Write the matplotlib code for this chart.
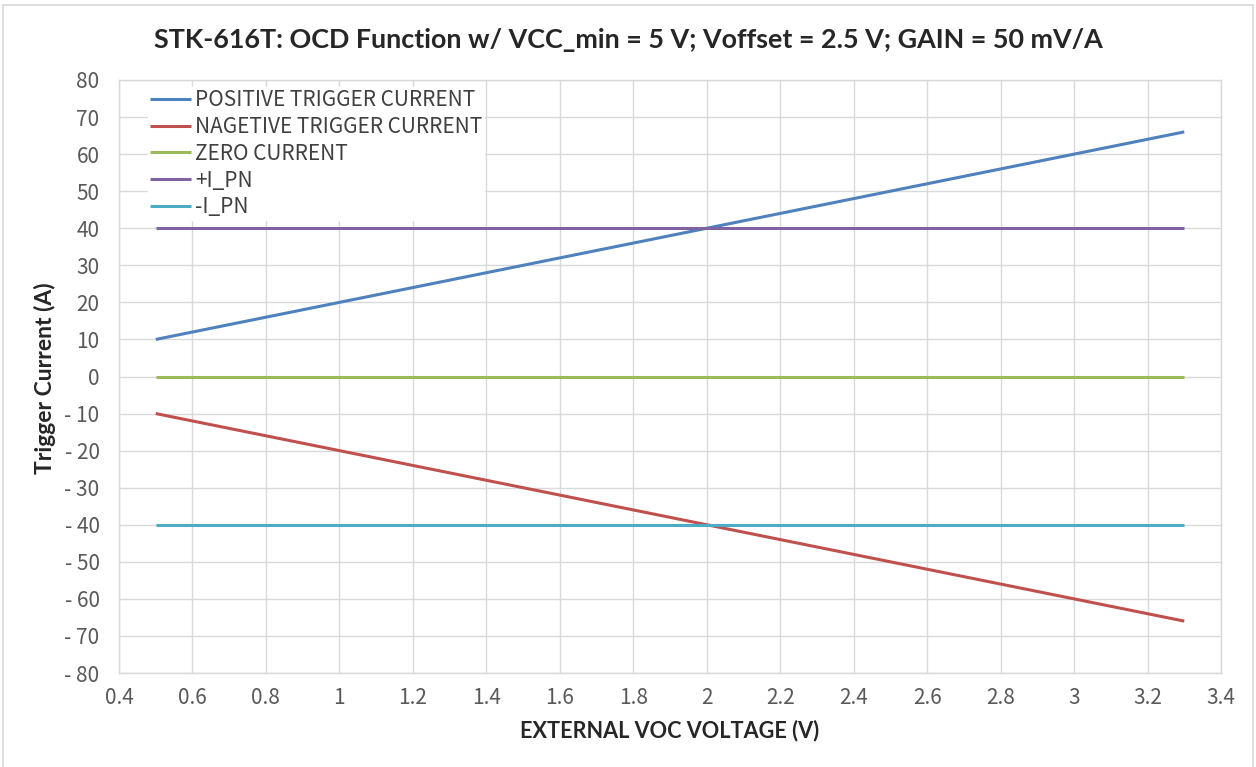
import matplotlib
matplotlib.use("Agg")
import matplotlib.pyplot as plt
from matplotlib.patches import Rectangle

# data
voltage = [0.5, 1.0, 1.5, 2.0, 2.5, 3.0, 3.3]
pos_trigger = [10, 20, 30, 40, 50, 60, 66]
neg_trigger = [-10, -20, -30, -40, -50, -60, -66]
zero_current = [0, 0, 0, 0, 0, 0, 0]
plus_ipn = [40, 40, 40, 40, 40, 40, 40]
minus_ipn = [-40, -40, -40, -40, -40, -40, -40]

series_names = ["POSITIVE TRIGGER CURRENT", "NAGETIVE TRIGGER CURRENT",
                "ZERO CURRENT", "+I_PN", "-I_PN"]
colors = ["#4F81BD", "#C0504D", "#9BBB59", "#8064A2", "#4BACC6"]

x_ticks = [0.4, 0.6, 0.8, 1, 1.2, 1.4, 1.6, 1.8, 2, 2.2, 2.4, 2.6, 2.8, 3, 3.2, 3.4]
x_tick_labels = ["0.4", "0.6", "0.8", "1", "1.2", "1.4", "1.6", "1.8", "2",
                 "2.2", "2.4", "2.6", "2.8", "3", "3.2", "3.4"]
y_ticks = list(range(-80, 81, 10))

tick_font = "Noto Sans CJK SC"
bold_font = "Lato"

fig = plt.figure(figsize=(12.56, 7.67), dpi=100)
ax = fig.add_axes([119 / 1256, 1 - 673 / 767, (1221 - 119) / 1256, (673 - 80) / 767])

# chart area border like the excel frame
fig.patches.append(Rectangle((3 / 1256, -0.01), 1250 / 1256, 1 - 5 / 767 + 0.01,
                             transform=fig.transFigure, fill=False,
                             edgecolor="#d9d9d9", linewidth=1.2))

all_series = [pos_trigger, neg_trigger, zero_current, plus_ipn, minus_ipn]
for vals, name, c in zip(all_series, series_names, colors):
    ax.plot(voltage, vals, color=c, linewidth=2.2, label=name, solid_capstyle="butt")

ax.set_xlim(0.4, 3.4)
ax.set_ylim(-80, 80)
ax.set_xticks(x_ticks)
ax.set_xticklabels(x_tick_labels)
ax.set_yticks(y_ticks)
ax.set_yticklabels([str(v).replace("-", "- ") for v in y_ticks])

ax.grid(True, color="#d9d9d9", linewidth=1)
ax.set_axisbelow(True)
for sp in ax.spines.values():
    sp.set_color("#d9d9d9")
    sp.set_linewidth(1)
ax.tick_params(length=0, labelsize=15, labelcolor="#595959")
ax.tick_params(axis="y", pad=14)
ax.tick_params(axis="x", pad=10)
for lbl in ax.get_xticklabels() + ax.get_yticklabels():
    lbl.set_family(tick_font)

ax.set_xlabel("EXTERNAL VOC VOLTAGE (V)", fontsize=15.6, fontweight="bold",
              family=bold_font, color="#262626", labelpad=8)
fig.text(45 / 1256, 1 - 378 / 767, "Trigger Current (A)", rotation=90, fontsize=16.5,
         fontweight="bold", family=bold_font, color="#262626", ha="center", va="center")
fig.text(0.5, 1 - 40 / 767, "STK-616T: OCD Function w/ VCC_min = 5 V; Voffset = 2.5 V; GAIN = 50 mV/A",
         fontsize=19.4, fontweight="bold", family=bold_font, color="#262626",
         ha="center", va="center")

# legend sits in the top-left corner, no frame, white fill
leg = ax.legend(loc="upper left", bbox_to_anchor=(0.0263, 0.988), borderaxespad=0,
                frameon=True, fancybox=False, framealpha=1, edgecolor="white",
                prop={"family": tick_font, "size": 15}, handlelength=1.95,
                handletextpad=0.2, labelspacing=0.23, borderpad=0.1)
for t in leg.get_texts():
    t.set_color("#404040")

fig.savefig("out.png", dpi=100, facecolor="white")
